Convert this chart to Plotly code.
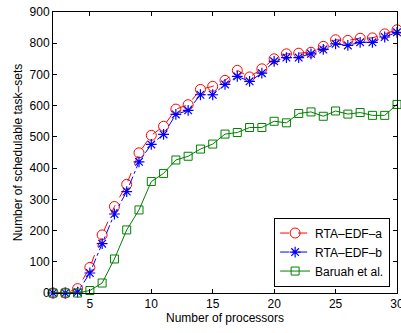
import plotly.graph_objects as go

processors = list(range(2, 31))
rta_edf_a = [0, 0, 14, 82, 186, 277, 348, 449, 505, 534, 589, 603, 652, 662,
             681, 713, 692, 718, 750, 766, 768, 771, 790, 811, 809, 816, 817, 830, 843]
rta_edf_b = [0, 0, 3, 64, 158, 253, 325, 420, 476, 508, 572, 585, 635, 635,
             668, 694, 678, 704, 742, 754, 754, 766, 780, 798, 793, 803, 803, 820, 835]
baruah = [0, 0, 0, 8, 32, 109, 202, 266, 357, 383, 426, 438, 461, 477,
          509, 514, 530, 530, 550, 545, 575, 580, 566, 583, 573, 578, 569, 569, 604]

x_ticks = [5, 10, 15, 20, 25, 30]
y_ticks = list(range(0, 1000, 100))

FONT = "Liberation Sans, Arial, sans-serif"

fig = go.Figure()
fig.add_trace(go.Scatter(
    x=processors, y=rta_edf_a, name="RTA–EDF–a", mode="lines+markers",
    line=dict(color="red", width=1, dash="dash"),
    marker=dict(symbol="circle-open", size=10, color="red", line=dict(width=1)),
    cliponaxis=False))
fig.add_trace(go.Scatter(
    x=processors, y=rta_edf_b, name="RTA–EDF–b", mode="lines+markers",
    line=dict(color="blue", width=1, dash="dashdot"),
    marker=dict(symbol="asterisk-open", size=9, color="blue", line=dict(width=1.2, color="blue")),
    cliponaxis=False))
fig.add_trace(go.Scatter(
    x=processors, y=baruah, name="Baruah et al.", mode="lines+markers",
    line=dict(color="green", width=1),
    marker=dict(symbol="square-open", size=8, color="green", line=dict(width=1)),
    cliponaxis=False))

axis_common = dict(
    showgrid=False, zeroline=False, showline=True, linecolor="black", linewidth=1,
    mirror="ticks", ticks="inside", ticklen=4, tickcolor="black",
    tickfont=dict(family=FONT, size=12, color="black"),
    automargin=False, ticklabeloverflow="allow",
)
fig.update_xaxes(range=[2, 30], tickvals=x_ticks,
                 title=dict(text="Number of processors", standoff=2,
                            font=dict(family=FONT, size=12, color="black")),
                 **axis_common)
fig.update_yaxes(range=[0, 900], tickvals=y_ticks,
                 title=dict(text="Number of schedulable task–sets", standoff=4,
                            font=dict(family=FONT, size=12, color="black")),
                 **axis_common)

fig.update_layout(
    width=401, height=333,
    margin=dict(l=53, r=4, t=12, b=40, autoexpand=False),
    paper_bgcolor="white", plot_bgcolor="white",
    font=dict(family=FONT, size=12, color="black"),
    legend=dict(x=0.98, y=0.023, xanchor="right", yanchor="bottom",
                bgcolor="white", bordercolor="black", borderwidth=1,
                font=dict(family=FONT, size=12), tracegroupgap=0, itemwidth=30),
    showlegend=True,
)

fig.write_html("out.html", config={"displayModeBar": False},
               post_script="document.body.style.margin='0';document.body.style.overflow='hidden';")
